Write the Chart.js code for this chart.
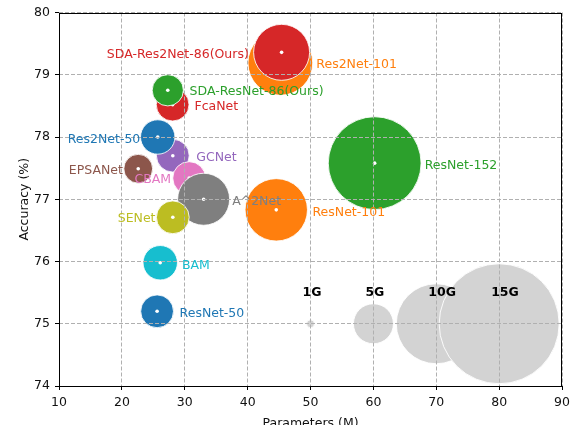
<!DOCTYPE html>
<html>
<head>
<meta charset="utf-8">
<script src="https://cdn.jsdelivr.net/npm/chart.js@4.4.1/dist/chart.umd.min.js"></script>
<style>
  html, body { margin: 0; padding: 0; background: #ffffff; }
  #wrap { width: 575px; height: 425px; }
  canvas { display: block; }
</style>
</head>
<body>
<div id="wrap"><canvas id="chart" width="575" height="425"></canvas></div>
<script>
// Models, listed in drawing order (later entries sit on top)
const models = [
  'ResNet-50', 'ResNet-101', 'ResNet-152', 'BAM', 'GCNet', 'CBAM', 'A^2Net',
  'SENet', 'FcaNet', 'EPSANet', 'Res2Net-50', 'Res2Net-101',
  'SDA-ResNet-86(Ours)', 'SDA-Res2Net-86(Ours)'
];
// Parameters (M)
const params = [25.6, 44.55, 60.2, 26.1, 28.1, 30.7, 33.0, 28.1, 28.07, 22.6, 25.7, 45.2, 27.3, 45.4];
// Top-1 accuracy (%)
const accuracy = [75.20, 76.83, 77.58, 75.98, 77.70, 77.34, 77.00, 76.71, 78.52, 77.49, 78.00, 79.19, 78.75, 79.36];
// Computation (GFLOPs), shown as bubble size
const gflops = [4.1, 7.8, 11.6, 4.3, 4.1, 4.1, 6.5, 4.1, 4.1, 3.6, 4.3, 8.1, 3.9, 7.0];

// Size key
const keyLabels = ['1G', '5G', '10G', '15G'];
const keyGflops = [1, 5, 10, 15];
const keyParams = [50, 60, 70, 80];
const keyAccuracy = 75;
const keyTextAccuracy = 75.5;

// Axes
const xTicks = [10, 20, 30, 40, 50, 60, 70, 80, 90];
const yTicks = [74, 75, 76, 77, 78, 79, 80];

// ---- styling ----
const PX_PER_GFLOP = 4;
const DOT_RADIUS = 1.8;
const FONT = '"DejaVu Sans", "Liberation Sans", sans-serif';
const TAB = {
  blue: '#1f77b4', orange: '#ff7f0e', green: '#2ca02c', red: '#d62728',
  purple: '#9467bd', brown: '#8c564b', pink: '#e377c2', gray: '#7f7f7f',
  olive: '#bcbd22', cyan: '#17becf'
};
const modelColors = [
  TAB.blue, TAB.orange, TAB.green, TAB.cyan, TAB.purple, TAB.pink, TAB.gray,
  TAB.olive, TAB.red, TAB.brown, TAB.blue, TAB.orange, TAB.green, TAB.red
];
const KEY_COLOR = 'rgb(211,211,211)';

// label placement relative to bubble centre, in pixels
const labelPlacement = [
  { align: 'left', dx: 22.5, dy: 2.3 },
  { align: 'left', dx: 36.2, dy: 2.6 },
  { align: 'left', dx: 50, dy: 2.7 },
  { align: 'left', dx: 21.7, dy: 2.7 },
  { align: 'left', dx: 23.4, dy: 2 },
  { align: 'right', dx: -18.1, dy: 2 },
  { align: 'left', dx: 28.5, dy: 2.2 },
  { align: 'right', dx: -17.3, dy: 1.7 },
  { align: 'left', dx: 21.9, dy: 2.5 },
  { align: 'right', dx: -15.3, dy: 2 },
  { align: 'right', dx: -17.4, dy: 2.3 },
  { align: 'left', dx: 36, dy: 1.7 },
  { align: 'left', dx: 21.8, dy: 1 },
  { align: 'right', dx: -32.8, dy: 2 }
];

// ---- datasets ----
const layers = [];
models.forEach((name, i) => {
  layers.push({
    label: name,
    data: [
      { x: params[i], y: accuracy[i], r: gflops[i] * PX_PER_GFLOP },
      { x: params[i], y: accuracy[i], r: DOT_RADIUS }
    ],
    backgroundColor: [modelColors[i], '#ffffff'],
    borderColor: ['rgba(255,255,255,0.85)', '#ffffff'],
    borderWidth: [1, 0]
  });
});
keyLabels.forEach((name, i) => {
  layers.push({
    label: name,
    data: [{ x: keyParams[i], y: keyAccuracy, r: keyGflops[i] * PX_PER_GFLOP }],
    backgroundColor: KEY_COLOR,
    borderColor: 'rgba(255,255,255,0.9)',
    borderWidth: 1
  });
});
const datasets = layers.map((d, i) => Object.assign(d, {
  order: layers.length - i,
  clip: 0
}));

// ---- text and frame ----
const annotate = {
  id: 'annotate',
  afterDraw(chart) {
    const { ctx, chartArea: a, scales: { x, y } } = chart;
    ctx.save();

    // axes frame
    ctx.strokeStyle = '#000000';
    ctx.lineWidth = 1;
    ctx.strokeRect(Math.round(a.left) + 0.5, Math.round(a.top) + 0.5,
      Math.round(a.right - a.left) - 1, Math.round(a.bottom - a.top) - 1);

    // model names
    ctx.font = '12.5px ' + FONT;
    ctx.textBaseline = 'middle';
    models.forEach((name, i) => {
      const p = labelPlacement[i];
      ctx.fillStyle = modelColors[i];
      ctx.textAlign = p.align;
      ctx.fillText(name, x.getPixelForValue(params[i]) + p.dx,
        y.getPixelForValue(accuracy[i]) + p.dy);
    });

    // size key captions
    ctx.font = 'bold 12.5px ' + FONT;
    ctx.fillStyle = '#000000';
    ctx.textAlign = 'left';
    keyLabels.forEach((name, i) => {
      ctx.fillText(name, x.getPixelForValue(keyParams[i]) - 8,
        y.getPixelForValue(keyTextAccuracy));
    });

    // axis titles
    ctx.font = '12.5px ' + FONT;
    ctx.fillStyle = '#111111';
    ctx.textAlign = 'center';
    ctx.textBaseline = 'alphabetic';
    ctx.fillText('Parameters (M)', (a.left + a.right) / 2, 426.5);
    ctx.translate(27.5, (a.top + a.bottom) / 2);
    ctx.rotate(-Math.PI / 2);
    ctx.fillText('Accuracy (%)', 0, 0);

    ctx.restore();
  }
};

const gridStyle = {
  z: 1,
  color: '#b0b0b0',
  lineWidth: 1,
  drawTicks: true,
  tickLength: 4,
  tickColor: '#000000',
  tickWidth: 1,
  tickBorderDash: []
};
// dashed grid lines; the frame itself is drawn by the plugin
const borderStyle = { display: false, dash: [4, 2] };

new Chart(document.getElementById('chart'), {
  type: 'bubble',
  data: { datasets },
  plugins: [annotate],
  options: {
    responsive: false,
    animation: false,
    events: [],
    layout: { autoPadding: false, padding: { top: 11, right: 11, bottom: 0, left: 0 } },
    plugins: { legend: { display: false }, tooltip: { enabled: false } },
    scales: {
      x: {
        type: 'linear',
        min: xTicks[0],
        max: xTicks[xTicks.length - 1],
        grid: gridStyle,
        border: borderStyle,
        ticks: { color: '#111111', font: { family: FONT, size: 12.5 }, padding: 5, maxRotation: 0 },
        afterBuildTicks: s => { s.ticks = xTicks.map(v => ({ value: v })); },
        afterFit: s => { s.height = 39; }
      },
      y: {
        type: 'linear',
        min: yTicks[0],
        max: yTicks[yTicks.length - 1],
        grid: gridStyle,
        border: borderStyle,
        ticks: { color: '#111111', font: { family: FONT, size: 12.5 }, padding: 5 },
        afterBuildTicks: s => { s.ticks = yTicks.map(v => ({ value: v })); },
        afterFit: s => { s.width = 59; }
      }
    }
  }
});
</script>
</body>
</html>
